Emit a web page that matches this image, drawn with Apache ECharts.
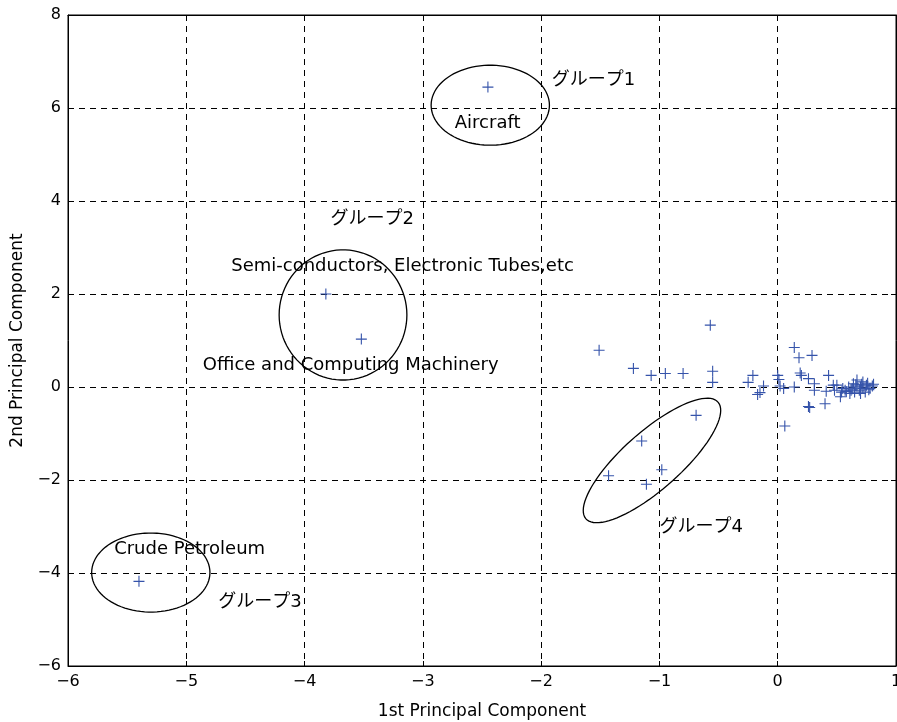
<!DOCTYPE html>
<html><head><meta charset="utf-8">
<script src="https://cdn.jsdelivr.net/npm/echarts@6/dist/echarts.min.js"></script>
<style>html,body{margin:0;padding:0;background:#fff}#c{width:897px;height:722px}</style>
</head><body><div id="c"></div>
<script>
// ---- data ----
const pointsX = [
  -2.45, -3.82, -3.52, -5.40,
  -0.69, -1.15, -1.43, -0.98, -1.11,
  -1.51, -0.57, -1.22, -1.07, -0.95, -0.80, -0.55, -0.55, -0.25, -0.21,
  -0.17, -0.15, -0.12, 0.00, 0.01, 0.02, 0.05, 0.06, 0.14, 0.18, 0.29,
  0.14, 0.19, 0.20, 0.26, 0.26, 0.27, 0.31, 0.31, 0.40, 0.43, 0.41,
  0.47, 0.50, 0.48, 0.53, 0.54, 0.55, 0.57, 0.58, 0.60, 0.61, 0.62,
  0.64, 0.65, 0.67, 0.67, 0.69, 0.70, 0.71, 0.72, 0.72, 0.74, 0.75,
  0.77, 0.78, 0.80, 0.81, 0.66, 0.70, 0.76, 0.63
];
const pointsY = [
  6.45, 2.00, 1.03, -4.18,
  -0.61, -1.16, -1.91, -1.78, -2.09,
  0.79, 1.33, 0.40, 0.25, 0.29, 0.29, 0.34, 0.10, 0.10, 0.25,
  -0.16, -0.12, 0.02, 0.25, 0.16, 0.02, -0.03, -0.84, 0.85, 0.63, 0.68,
  0.00, 0.30, 0.25, 0.18, -0.42, -0.44, 0.07, -0.07, -0.36, 0.25, -0.09,
  0.04, 0.04, -0.07, -0.21, -0.11, -0.03, -0.07, -0.10, 0.00, -0.14, -0.07,
  0.07, -0.11, 0.02, 0.15, -0.07, -0.14, 0.06, -0.03, 0.11, -0.11, 0.04,
  -0.06, -0.03, 0.02, 0.06, 0.05, 0.00, 0.08, -0.04
];
// ellipses: centre, first semi-axis vector, second semi-axis vector (data units)
const ellipseCenters = [[-2.43, 6.06], [-3.675, 1.55], [-5.30, -3.99], [-1.063, -1.58]];
const ellipseAxisA   = [[0.50, 0], [0.54, 0], [0.50, 0], [0.56, 1.25]];
const ellipseAxisB   = [[0, 0.86], [0, 1.40], [0, 0.85], [-0.155, 0.48]];
// annotation texts (left-anchored)
const labelTexts = ['グループ1', 'Aircraft', 'グループ2', 'Semi-conductors, Electronic Tubes,etc',
  'Office and Computing Machinery', 'Crude Petroleum', 'グループ3', 'グループ4'];
const labelX = [-1.91, -2.73, -3.78, -4.62, -4.86, -5.61, -4.73, -1.00];
const labelY = [6.60, 5.67, 3.60, 2.60, 0.47, -3.50, -4.62, -3.01];
const xTicks = [-6, 1, 1];   // min, max, interval
const yTicks = [-6, 8, 2];

// ---- chart ----
const chart = echarts.init(document.getElementById('c'), null, {renderer: 'canvas'});
const FONT = "'DejaVu Sans', 'Noto Sans CJK JP', sans-serif";
const minus = v => String(v).replace('-', '\u2212');

const scatterData = pointsX.map((x, i) => [x, pointsY[i]]);
const ellipseData = ellipseCenters.map((c, i) => [c[0], c[1], ellipseAxisA[i][0], ellipseAxisA[i][1], ellipseAxisB[i][0], ellipseAxisB[i][1]]);
const labelData = labelTexts.map((t, i) => [labelX[i], labelY[i], i]);

const gridDash = {show: true, lineStyle: {color: '#000', width: 1, type: [6, 5]}};

chart.setOption({
  animation: false,
  backgroundColor: '#fff',
  grid: {left: 68, right: 1, top: 15, bottom: 56, containLabel: false, outerBoundsMode: 'none',
         show: true, borderColor: '#000', borderWidth: 1},
  xAxis: [{
    type: 'value', min: xTicks[0], max: xTicks[1], interval: xTicks[2], position: 'bottom',
    axisLine: {show: true, onZero: false, lineStyle: {color: '#000', width: 1}},
    axisTick: {show: true, inside: true, length: 5, lineStyle: {color: '#000'}},
    axisLabel: {color: '#000', fontSize: 16, fontFamily: FONT, margin: 8, formatter: minus},
    splitLine: gridDash,
    name: '1st Principal Component', nameLocation: 'middle', nameGap: 37,
    nameTextStyle: {color: '#000', fontSize: 17, fontFamily: FONT}
  }, {
    type: 'value', min: xTicks[0], max: xTicks[1], interval: xTicks[2], position: 'top',
    axisLine: {show: true, onZero: false, lineStyle: {color: '#000'}},
    axisTick: {show: true, inside: true, length: 5, lineStyle: {color: '#000'}},
    axisLabel: {show: false}, splitLine: {show: false}
  }],
  yAxis: [{
    type: 'value', min: yTicks[0], max: yTicks[1], interval: yTicks[2], position: 'left',
    axisLine: {show: true, onZero: false, lineStyle: {color: '#000', width: 1}},
    axisTick: {show: true, inside: true, length: 5, lineStyle: {color: '#000'}},
    axisLabel: {color: '#000', fontSize: 16, fontFamily: FONT, margin: 7, formatter: minus},
    splitLine: gridDash,
    name: '2nd Principal Component', nameLocation: 'middle', nameGap: 39, nameRotate: 90,
    nameTextStyle: {color: '#000', fontSize: 17, fontFamily: FONT}
  }, {
    type: 'value', min: yTicks[0], max: yTicks[1], interval: yTicks[2], position: 'right',
    axisLine: {show: true, onZero: false, lineStyle: {color: '#000'}},
    axisTick: {show: true, inside: true, length: 5, lineStyle: {color: '#000'}},
    axisLabel: {show: false}, splitLine: {show: false}
  }],
  series: [{
    type: 'custom', xAxisIndex: 0, yAxisIndex: 0, clip: false, silent: true,
    data: ellipseData, encode: {x: 0, y: 1},
    renderItem: function (params, api) {
      const cx = api.value(0), cy = api.value(1), ax = api.value(2), ay = api.value(3), bx = api.value(4), by = api.value(5);
      const pts = [];
      for (let k = 0; k <= 90; k++) {
        const t = k / 90 * 2 * Math.PI;
        pts.push(api.coord([cx + ax * Math.cos(t) + bx * Math.sin(t), cy + ay * Math.cos(t) + by * Math.sin(t)]));
      }
      return {type: 'polygon', shape: {points: pts}, style: {fill: 'none', stroke: '#000', lineWidth: 1.3}};
    }
  }, {
    type: 'scatter', xAxisIndex: 0, yAxisIndex: 0, silent: true,
    data: scatterData,
    symbol: 'path://M0,5L10,5M5,0L5,10', symbolSize: 11,
    itemStyle: {color: 'none', borderColor: '#3553aa', borderWidth: 1.1, opacity: 1}
  }, {
    type: 'custom', xAxisIndex: 0, yAxisIndex: 0, clip: false, silent: true,
    data: labelData, encode: {x: 0, y: 1},
    renderItem: function (params, api) {
      const p = api.coord([api.value(0), api.value(1)]);
      return {type: 'text', x: p[0], y: p[1],
        style: {text: labelTexts[api.value(2)], fill: '#000', font: '18px ' + FONT, align: 'left', verticalAlign: 'middle'}};
    }
  }]
});
</script>
</body></html>
